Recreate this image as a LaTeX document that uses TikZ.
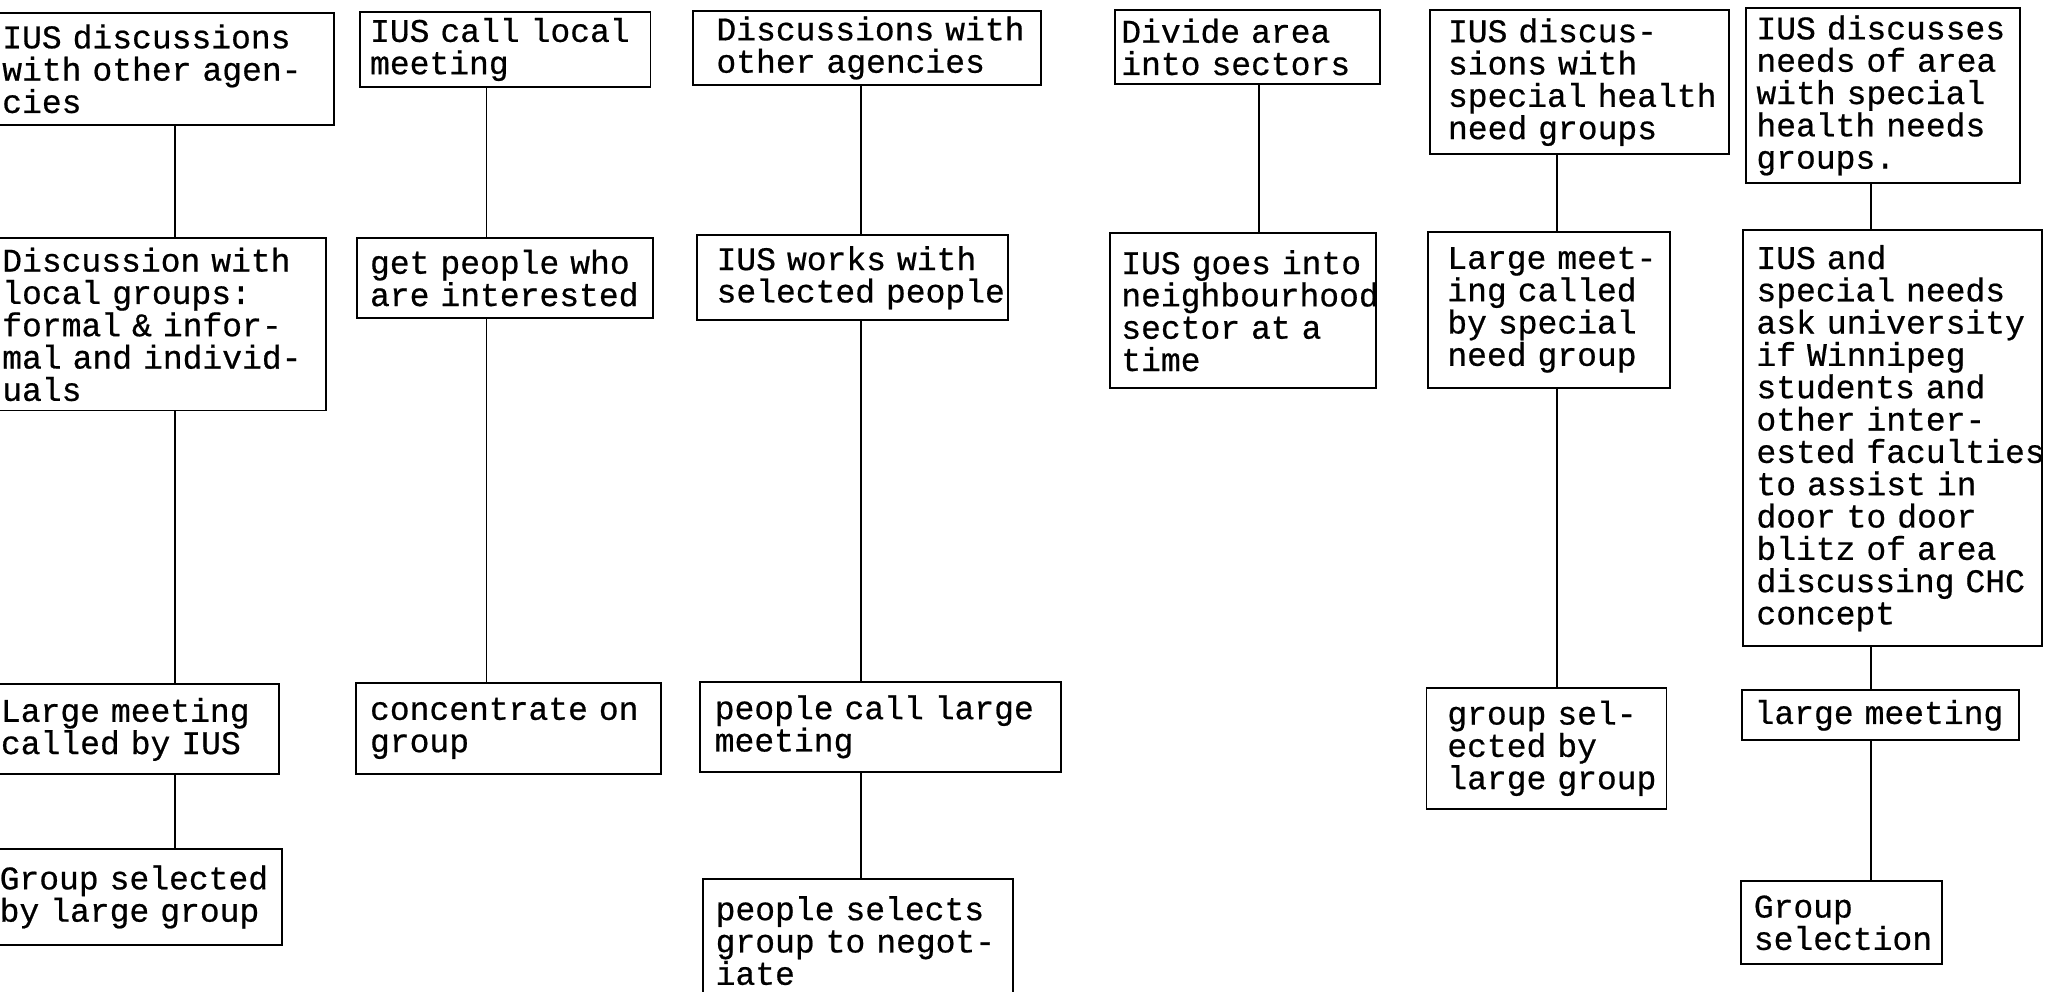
\documentclass[tikz,border=0pt]{standalone}
\usepackage{fontspec}
\newfontfamily\tw{Liberation Mono}[FakeBold=0.6]
\newcommand\tline[1]{\mbox{#1}}
\begin{document}
\begin{tikzpicture}[x=0.2mm,y=-0.2mm,
  box/.style={draw, line width=0.85pt, anchor=north west, align=left,
    inner ysep=0pt, font={\fontsize{14.4pt}{14.1pt}\tw}},
  link/.style={line width=0.85pt}]
\useasboundingbox (0,0) rectangle (1568,760);
\fill[white] (0,0) rectangle (1568,760);
\clip (0,0) rectangle (1568,760);
% column x positions of connectors
\coordinate (k1) at (134.5,0);
\coordinate (k2) at (373,0);
\coordinate (k3) at (660.5,0);
\coordinate (k4) at (965,0);
\coordinate (k5) at (1193.5,0);
\coordinate (k6) at (1434.5,0);
% column 1
\node[box, inner xsep=2.2mm, text width=48.6mm, minimum height=17.2mm] (B1) at (-10,9)
  {\tline{IUS discussions}\\\tline{with other agen-}\\\tline{cies}};
\node[box, inner xsep=2.2mm, text width=47.4mm, minimum height=26.4mm] (B2) at (-10,182)
  {\tline{Discussion with}\\\tline{local groups:}\\\tline{formal \& infor-}\\\tline{mal and individ-}\\\tline{uals}};
\node[box, inner xsep=2mm, text width=40.7mm, minimum height=13.8mm] (B3) at (-10,524)
  {\tline{Large meeting}\\\tline{called by IUS}};
\node[box, inner xsep=1.8mm, text width=41.5mm, minimum height=14.6mm] (B4) at (-10,650.5)
  {\tline{Group selected}\\\tline{by large group}};
% column 2
\node[box, inner xsep=1.6mm, text width=41.4mm, minimum height=11.52mm] (C1) at (275,8.4)
  {\tline{IUS call local}\\\tline{meeting}};
\node[box, inner xsep=2mm, text width=41.4mm, minimum height=12.2mm] (C2) at (273,182)
  {\tline{get people who}\\\tline{are interested}};
\node[box, inner xsep=2.2mm, text width=42.4mm, minimum height=13.9mm] (C3) at (272,523)
  {\tline{concentrate on}\\\tline{group}};
% column 3
\node[box, inner xsep=3.6mm, text width=46.14mm, minimum height=11.34mm] (D1) at (530.6,7.7)
  {\tline{Discussions with}\\\tline{other agencies}};
\node[box, inner xsep=3mm, text width=41.66mm, minimum height=13mm] (D2) at (533.7,179.7)
  {\tline{IUS works with}\\\tline{selected people}};
\node[box, inner xsep=2.2mm, text width=50.92mm, minimum height=13.8mm] (D3) at (536.3,522)
  {\tline{people call large}\\\tline{meeting}};
\node[box, inner xsep=2mm, text width=43.6mm, minimum height=18.8mm] (D4) at (538,673.5)
  {\tline{people selects}\\\tline{group to negot-}\\\tline{iate}};
% column 4
\node[box, inner xsep=1mm, text width=38.6mm, minimum height=11.24mm] (E1) at (854,7.2)
  {\tline{Divide area}\\\tline{into sectors}};
\node[box, inner xsep=1.8mm, text width=37.2mm, minimum height=23.8mm] (E2) at (850,178)
  {\tline{IUS goes into}\\\tline{neighbourhood}\\\tline{sector at a}\\\tline{time}};
% column 5
\node[box, inner xsep=2.8mm, text width=40.3mm, minimum height=22mm] (F1) at (1095.5,7.2)
  {\tline{IUS discus-}\\\tline{sions with}\\\tline{special health}\\\tline{need groups}};
\node[box, inner xsep=3mm, text width=31.2mm, minimum height=23.9mm] (F2) at (1094,177)
  {\tline{Large meet-}\\\tline{ing called}\\\tline{by special}\\\tline{need group}};
\node[box, inner xsep=3.2mm, text width=30.4mm, minimum height=18.6mm] (F3) at (1093,526.5)
  {\tline{group sel-}\\\tline{ected by}\\\tline{large group}};
% column 6
\node[box, inner xsep=1.6mm, text width=38.8mm, minimum height=26.74mm] (G1) at (1338,5.6)
  {\tline{IUS discusses}\\\tline{needs of area}\\\tline{with special}\\\tline{health needs}\\\tline{groups.}};
\node[box, inner xsep=2mm, text width=41.8mm, minimum height=63.76mm] (G2) at (1336,175.8)
  {\tline{IUS and}\\\tline{special needs}\\\tline{ask university}\\\tline{if Winnipeg}\\\tline{students and}\\\tline{other inter-}\\\tline{ested faculties}\\\tline{to assist in}\\\tline{door to door}\\\tline{blitz of area}\\\tline{discussing CHC}\\\tline{concept}};
\node[box, inner xsep=2mm, text width=38.6mm, minimum height=7.7mm] (G3) at (1334.6,528.5)
  {\tline{large meeting}};
\node[box, inner xsep=2mm, text width=26.8mm, minimum height=12.72mm] (G4) at (1334,675)
  {\tline{Group}\\\tline{selection}};
% connectors
\draw[link] (B1.south -| k1) -- (B2.north -| k1);
\draw[link] (B2.south -| k1) -- (B3.north -| k1);
\draw[link] (B3.south -| k1) -- (B4.north -| k1);
\draw[link] (C1.south -| k2) -- (C2.north -| k2);
\draw[link] (C2.south -| k2) -- (C3.north -| k2);
\draw[link] (D1.south -| k3) -- (D2.north -| k3);
\draw[link] (D2.south -| k3) -- (D3.north -| k3);
\draw[link] (D3.south -| k3) -- (D4.north -| k3);
\draw[link] (E1.south -| k4) -- (E2.north -| k4);
\draw[link] (F1.south -| k5) -- (F2.north -| k5);
\draw[link] (F2.south -| k5) -- (F3.north -| k5);
\draw[link] (G1.south -| k6) -- (G2.north -| k6);
\draw[link] (G2.south -| k6) -- (G3.north -| k6);
\draw[link] (G3.south -| k6) -- (G4.north -| k6);
\end{tikzpicture}
\end{document}
